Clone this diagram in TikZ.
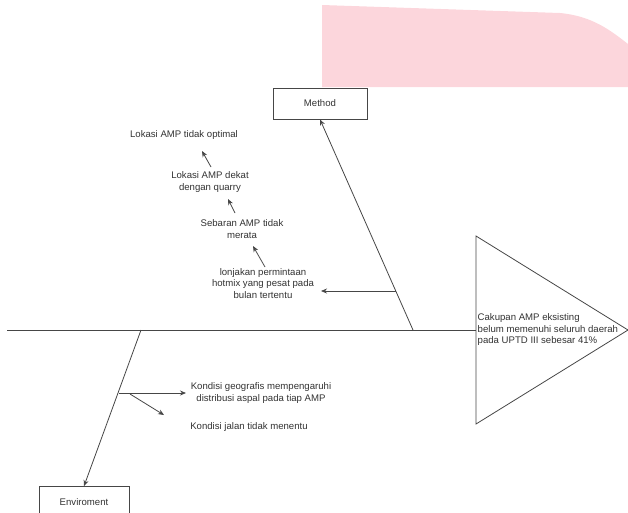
\documentclass[tikz,border=0pt]{standalone}
\usepackage{fontspec}
\setmainfont{Liberation Sans}
\usetikzlibrary{arrows.meta}
\definecolor{pinkbg}{RGB}{252,214,220}
\definecolor{linec}{RGB}{70,70,70}
\definecolor{textc}{RGB}{50,50,50}
\tikzset{
  txt/.style={inner sep=0pt, align=center, text=textc, font=\fontsize{9.6}{11.5}\selectfont},
  lbox/.style={draw=linec, line width=0.8pt, minimum width=94pt, minimum height=31pt, inner sep=0pt, text=textc, font=\fontsize{9.6}{11.5}\selectfont},
  bone/.style={draw=linec, line width=0.8pt},
  arr/.style={draw=linec, line width=0.8pt, -{Stealth[length=6pt,width=5pt]}}
}
\begin{document}
\begin{tikzpicture}[x=1pt,y=-1pt]
\useasboundingbox (0,0) rectangle (628,512);
% pink background shape
\fill[pinkbg] (322,5) -- (560,13) .. controls (592,16) and (610,30) .. (628,44) -- (628,87) -- (322,87) -- cycle;

% head (triangle)
\coordinate (hT) at (476,236);
\coordinate (hB) at (476,424);
\coordinate (hP) at (628,330);
\draw[bone] (hT) -- (hP) -- (hB) -- cycle;
\node[txt, align=left, anchor=west] (head) at (477.5,330) {Cakupan AMP eksisting\\belum memenuhi seluruh daerah\\pada UPTD III sebesar 41\%};

% spine
\coordinate (tail) at (7,330);
\coordinate (spineEnd) at (476,330);
\draw[bone] (tail) -- (spineEnd);

% Method branch
\node[lbox] (method) at (320,103.5) {Method};
\coordinate (mRoot) at (413,330);
\draw[arr] (mRoot) -- (method.south);
\coordinate (mBr) at (395.5,291);
\node[txt] (t1) at (184,135) {Lokasi AMP tidak optimal};
\node[txt] (t2) at (210,182) {Lokasi AMP dekat\\dengan quarry};
\node[txt] (t3) at (242,229) {Sebaran AMP tidak\\merata};
\node[txt] (t4) at (263,283.5) {lonjakan permintaan\\hotmix yang pesat pada\\bulan tertentu};
\coordinate (a4e) at (321,291);
\draw[arr] (mBr) -- (a4e);
\coordinate (a1s) at (265,267);
\coordinate (a1e) at (253,246);
\draw[arr] (a1s) -- (a1e);
\coordinate (a2s) at (235,213);
\coordinate (a2e) at (228,199);
\draw[arr] (a2s) -- (a2e);
\coordinate (a3s) at (211,167);
\coordinate (a3e) at (202,151);
\draw[arr] (a3s) -- (a3e);

% Environment branch
\node[lbox, minimum width=90pt] (env) at (84,502) {Enviroment};
\coordinate (eRoot) at (141,330);
\draw[arr] (eRoot) -- (env.north);
\coordinate (eBr) at (119,393);
\coordinate (eBr2) at (130,394);
\node[txt] (e1) at (261,393) {Kondisi geografis mempengaruhi\\distribusi aspal pada tiap AMP};
\node[txt] (e2) at (249,427) {Kondisi jalan tidak menentu};
\coordinate (e1a) at (186,393);
\coordinate (e2a) at (164,415);
\draw[arr] (eBr) -- (e1a);
\draw[arr] (eBr2) -- (e2a);
\end{tikzpicture}
\end{document}
